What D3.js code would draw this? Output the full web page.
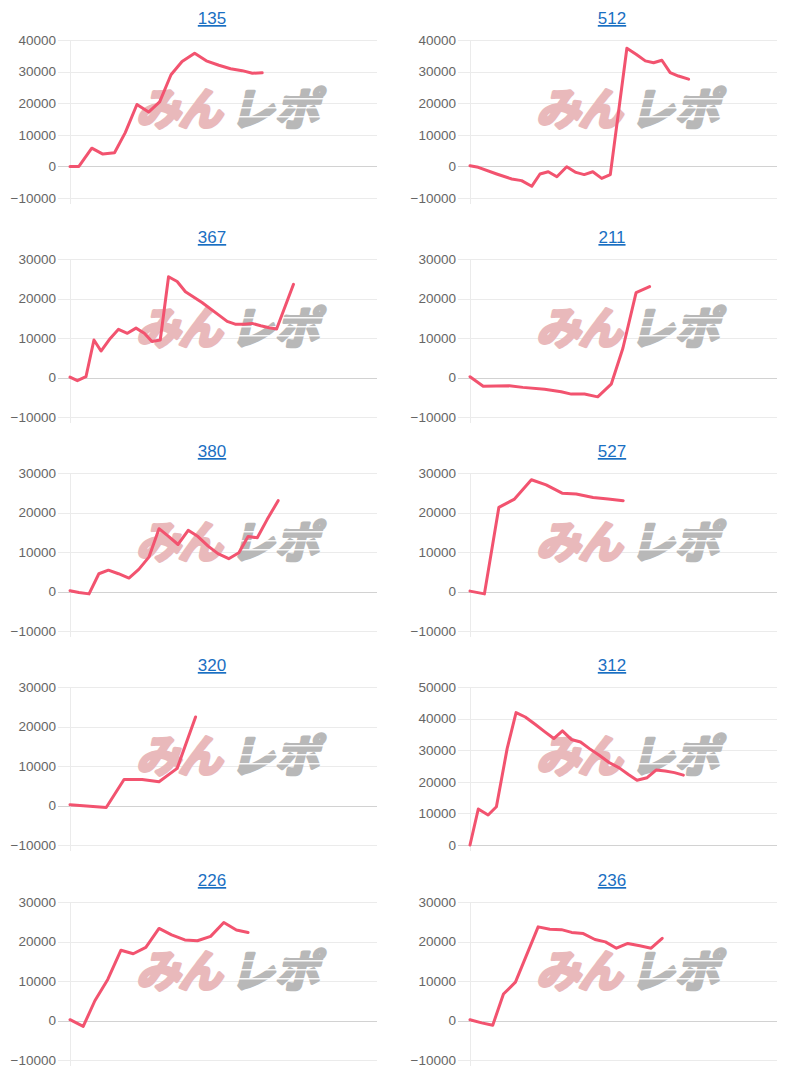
<!DOCTYPE html>
<html>
<head>
<meta charset="utf-8">
<script src="https://cdn.jsdelivr.net/npm/d3@7"></script>
<style>
  html, body { margin: 0; padding: 0; background: #ffffff; }
  svg { display: block; }
</style>
</head>
<body>
<svg id="chart" width="800" height="1080"></svg>
<script>
// ---- data (x = progress %, y = 差枚) ----
const titles = ["135", "512", "367", "211", "380", "527", "320", "312", "226", "236"];

const x135 = [0,2.9,7.1,10.7,14.5,18,21.8,25.6,29.2,32.9,36.5,40.6,44.4,48.5,52.3,56.1,59.4,62.6];
const y135 = [0,0,5760,3900,4300,10700,19600,17200,20400,29000,33200,35800,33400,32000,30900,30300,29500,29600];

const x512 = [0,2.7,8.7,13.6,16.8,20.1,22.8,25.5,28.3,31.5,34.5,37.2,40,42.9,45.7,51.1,54.1,57.1,59.8,62.5,65.2,67.9,71.2];
const y512 = [200,-300,-2400,-4000,-4500,-6300,-2400,-1700,-3300,-100,-1900,-2600,-1700,-3800,-2600,37400,35500,33400,32800,33600,29700,28600,27600];

const x367 = [0,2.4,5.2,7.8,10.1,13.1,15.8,18.7,21.5,24.2,26.7,29.4,32.1,34.9,37.6,43,48.5,51.2,53.8,56.6,59.3,62.1,64.9,67.3,72.8];
const y367 = [100,-800,200,9500,6700,9900,12200,11200,12500,11200,9100,9500,25500,24300,21700,19000,15800,14200,13500,13500,13700,13100,12600,12300,23600];

const x211 = [0,4.3,12.8,17.2,24.3,29.7,33,37.3,41.6,46,49.8,54.1,58.5];
const y211 = [200,-2200,-2100,-2500,-3000,-3600,-4200,-4200,-4900,-1700,7400,21500,23000];

const x380 = [0,2.9,6.2,9.4,12.5,15.8,19.2,22.4,25.7,29,32.2,35.2,38.5,41.7,45,48.2,51.7,55,58,61,64.2,67.8];
const y380 = [200,-250,-600,4500,5400,4500,3400,5600,8700,15900,13900,11900,15500,13900,11500,9600,8300,9800,13900,13600,18200,23000];

const x527 = [0,4.7,9.4,14.5,20,24.8,30,34.6,40.1,45,49.9];
const y527 = [100,-600,21300,23400,28300,27000,24900,24700,23800,23400,23000];

const x320 = [0,11.8,17.6,23.5,29,34.9,40.9];
const y320 = [200,-500,6600,6600,6000,9400,22400];

const x312 = [0,2.7,5.9,8.6,12.1,15,18,21.2,24.4,27.3,30.1,33,36,38.9,42.1,45.3,48.6,51.6,54.4,57.7,60.6,63.6,66.6,69.5];
const y312 = [0,11400,9500,12100,30500,41900,40500,38200,35800,33700,36100,33400,32600,30500,28400,26100,24400,22300,20500,21300,23700,23400,22900,22100];

const x226 = [0,4.3,8.1,12.3,16.6,20.6,24.7,29,33.1,37.4,41.5,45.8,50.1,54.2,58];
const y226 = [200,-1500,5000,10400,17800,16900,18500,23300,21700,20400,20200,21300,24800,22900,22300];

const x236 = [0,3.8,7.4,10.9,14.8,22.2,26,29.8,33.1,36.9,40.7,44.1,47.7,51.4,55.3,59,62.6];
const y236 = [200,-600,-1200,6700,9700,23700,23100,23000,22300,22000,20500,19900,18300,19500,18900,18300,20800];

const yMins = [-10000,-10000,-10000,-10000,-10000,-10000,-10000,0,-10000,-10000];
const yMaxs = [40000,40000,30000,30000,30000,30000,30000,50000,30000,30000];

const xs = [x135, x512, x367, x211, x380, x527, x320, x312, x226, x236];
const ys = [y135, y512, y367, y211, y380, y527, y320, y312, y226, y236];

// ---- layout ----
const colLeft = [70, 470];
const rowTop = [40, 259, 473, 687, 902];
const plotW = 307, plotH = 158;

const svg = d3.select("#chart");

titles.forEach((t, i) => {
  const col = i % 2, row = Math.floor(i / 2);
  const left = colLeft[col], top = rowTop[row];
  const g = svg.append("g").attr("transform", `translate(${left},${top})`);

  const x = d3.scaleLinear().domain([0, 100]).range([0, plotW]);
  const y = d3.scaleLinear().domain([yMins[i], yMaxs[i]]).range([plotH, 0]);
  const ticks = d3.range(yMins[i], yMaxs[i] + 1, 10000);

  // grid lines + tick marks
  g.selectAll("line.grid").data(ticks).join("line")
    .attr("class", "grid")
    .attr("x1", -12).attr("x2", plotW)
    .attr("y1", d => Math.round(y(d)) + 0.5).attr("y2", d => Math.round(y(d)) + 0.5)
    .attr("stroke", d => d === 0 ? "#d2d2d2" : "#ebebeb")
    .attr("stroke-width", 1);

  // vertical axis line
  g.append("line")
    .attr("x1", 0.5).attr("x2", 0.5)
    .attr("y1", 0).attr("y2", plotH + 6)
    .attr("stroke", "#ebebeb");

  // tick labels
  g.selectAll("text.tick").data(ticks).join("text")
    .attr("class", "tick")
    .attr("x", -14)
    .attr("y", d => y(d))
    .attr("dy", "0.36em")
    .attr("text-anchor", "end")
    .attr("font-family", "'Liberation Sans', Arial, sans-serif")
    .attr("font-size", 13.5)
    .attr("fill", "#666666")
    .text(d => d3.format("d")(d));

  // watermark (heavy italic look via skew + stroke)
  const wm = g.append("g")
    .attr("transform", `translate(${66},${85}) skewX(-14)`);
  wm.append("text")
    .attr("x", 0).attr("y", 0)
    .attr("font-family", "'Noto Sans CJK JP', sans-serif")
    .attr("font-weight", 700)
    .attr("font-size", 44)
    .attr("letter-spacing", -2)
    .attr("fill", "#e9b9bb")
    .attr("stroke", "#e9b9bb")
    .attr("stroke-width", 3.5)
    .attr("stroke-linejoin", "round")
    .text("みん");
  wm.append("text")
    .attr("x", 94).attr("y", 0)
    .attr("font-family", "'Noto Sans CJK JP', sans-serif")
    .attr("font-weight", 700)
    .attr("font-size", 44)
    .attr("letter-spacing", 1)
    .attr("fill", "#b8b8b8")
    .attr("stroke", "#b8b8b8")
    .attr("stroke-width", 3.5)
    .attr("stroke-linejoin", "round")
    .text("レポ");
  // speed stripes across the grey part
  [-27, -18, -9].forEach(dy => {
    wm.append("rect")
      .attr("x", 92).attr("y", dy)
      .attr("width", 104).attr("height", 1.6)
      .attr("fill", "#ffffff").attr("opacity", 0.9);
  });

  // line
  const pts = xs[i].map((d, k) => [d, ys[i][k]]);
  g.append("path")
    .datum(pts)
    .attr("fill", "none")
    .attr("stroke", "#f2536f")
    .attr("stroke-width", 3)
    .attr("stroke-linejoin", "round")
    .attr("stroke-linecap", "round")
    .attr("d", d3.line().x(d => x(d[0])).y(d => y(d[1])));

  // title (link style)
  g.append("text")
    .attr("x", 142)
    .attr("y", -16)
    .attr("text-anchor", "middle")
    .attr("font-family", "'Liberation Sans', Arial, sans-serif")
    .attr("font-size", 17)
    .attr("fill", "#1a6fc2")
    .attr("text-decoration", "underline")
    .text(t);
});
</script>
</body>
</html>
